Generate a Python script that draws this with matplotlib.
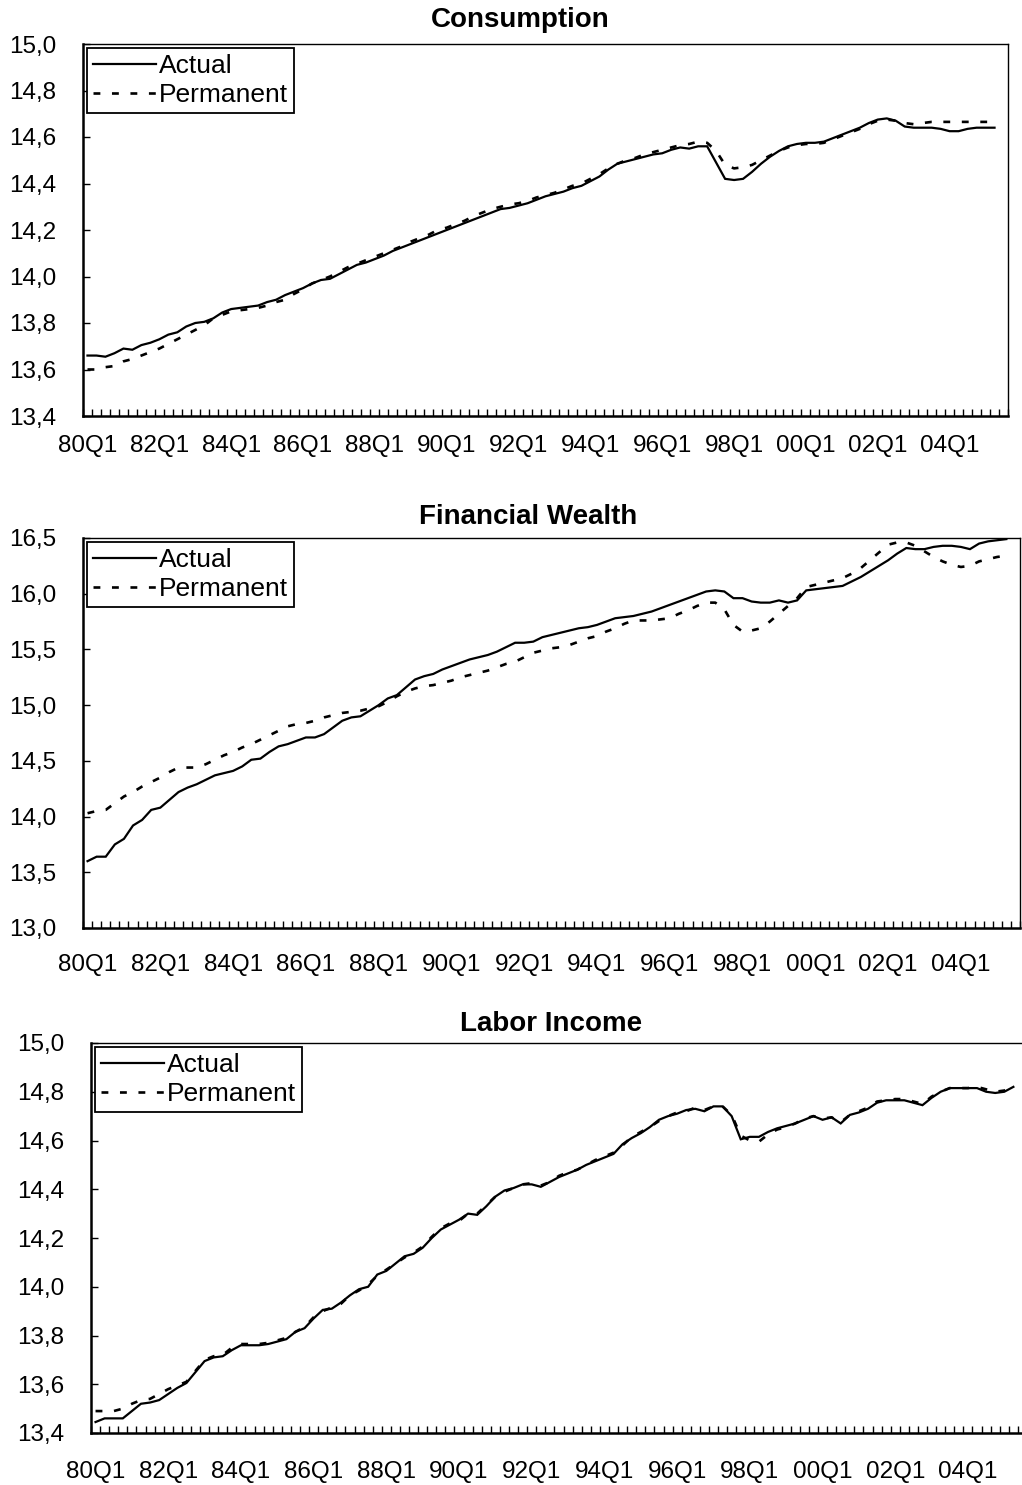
import matplotlib
matplotlib.use("Agg")
import matplotlib.pyplot as plt
from matplotlib.ticker import FixedLocator, FuncFormatter
import numpy as np

plt.rcParams['font.family'] = ['Liberation Sans', 'DejaVu Sans']

# ---------------- data (quarterly, 80Q1 .. 05Q2) ----------------
years = list(range(80, 100)) + list(range(0, 6))
quarters = [f"{y:02d}Q{q}" for y in years for q in (1, 2, 3, 4)][:102]
label_every = 8
n_bins = 103

cons_actual = [
    13.66, 13.66, 13.655, 13.67, 13.69, 13.685, 13.705, 13.715, 13.73, 13.75,
    13.76, 13.785, 13.80, 13.805, 13.82, 13.845, 13.86, 13.865, 13.87, 13.875,
    13.89, 13.90, 13.92, 13.935, 13.95, 13.97, 13.985, 13.99, 14.01, 14.03,
    14.05, 14.06, 14.075, 14.09, 14.11, 14.125, 14.14, 14.155, 14.17, 14.185,
    14.20, 14.215, 14.23, 14.245, 14.26, 14.275, 14.29, 14.295, 14.305, 14.315,
    14.33, 14.345, 14.355, 14.365, 14.38, 14.39, 14.41, 14.43, 14.46, 14.485,
    14.495, 14.505, 14.515, 14.525, 14.53, 14.545, 14.555, 14.55, 14.56, 14.56,
    14.49, 14.42, 14.415, 14.42, 14.45, 14.485, 14.515, 14.54, 14.56, 14.57,
    14.575, 14.575, 14.58, 14.595, 14.61, 14.625, 14.64, 14.66, 14.675, 14.68,
    14.67, 14.645, 14.64, 14.64, 14.64, 14.635, 14.625, 14.625, 14.635, 14.64,
    14.64, 14.64]
cons_perm = [
    13.60, 13.60, 13.61, 13.615, 13.635, 13.645, 13.66, 13.675, 13.69, 13.71,
    13.73, 13.75, 13.77, 13.79, 13.82, 13.835, 13.85, 13.855, 13.86, 13.865,
    13.875, 13.89, 13.90, 13.925, 13.945, 13.97, 13.985, 14.00, 14.02, 14.04,
    14.055, 14.07, 14.085, 14.10, 14.115, 14.13, 14.15, 14.165, 14.18, 14.20,
    14.21, 14.225, 14.24, 14.26, 14.275, 14.29, 14.30, 14.31, 14.315, 14.325,
    14.34, 14.35, 14.36, 14.375, 14.39, 14.40, 14.42, 14.44, 14.465, 14.485,
    14.50, 14.51, 14.525, 14.535, 14.545, 14.555, 14.565, 14.57, 14.58, 14.575,
    14.54, 14.48, 14.465, 14.47, 14.48, 14.50, 14.52, 14.54, 14.555, 14.565,
    14.57, 14.57, 14.575, 14.59, 14.605, 14.62, 14.635, 14.655, 14.67, 14.675,
    14.67, 14.66, 14.655, 14.66, 14.665, 14.665, 14.665, 14.665, 14.665, 14.665,
    14.665, 14.665]

wealth_actual = [
    13.60, 13.64, 13.64, 13.75, 13.80, 13.92, 13.97, 14.06, 14.08, 14.15,
    14.22, 14.26, 14.29, 14.33, 14.37, 14.39, 14.41, 14.45, 14.51, 14.52,
    14.58, 14.63, 14.65, 14.68, 14.71, 14.71, 14.74, 14.80, 14.86, 14.89,
    14.90, 14.95, 15.00, 15.06, 15.09, 15.16, 15.23, 15.26, 15.28, 15.32,
    15.35, 15.38, 15.41, 15.43, 15.45, 15.48, 15.52, 15.56, 15.56, 15.57,
    15.61, 15.63, 15.65, 15.67, 15.69, 15.70, 15.72, 15.75, 15.78, 15.79,
    15.80, 15.82, 15.84, 15.87, 15.90, 15.93, 15.96, 15.99, 16.02, 16.03,
    16.02, 15.96, 15.96, 15.93, 15.92, 15.92, 15.94, 15.92, 15.94, 16.03,
    16.04, 16.05, 16.06, 16.07, 16.11, 16.15, 16.20, 16.25, 16.30, 16.36,
    16.41, 16.40, 16.40, 16.42, 16.43, 16.43, 16.42, 16.40, 16.45, 16.47,
    16.48, 16.49]
wealth_perm = [
    14.03, 14.05, 14.06, 14.12, 14.18, 14.22, 14.27, 14.31, 14.35, 14.40,
    14.44, 14.44, 14.44, 14.47, 14.51, 14.55, 14.58, 14.62, 14.65, 14.69,
    14.73, 14.77, 14.81, 14.83, 14.84, 14.86, 14.89, 14.91, 14.93, 14.94,
    14.95, 14.97, 14.99, 15.03, 15.08, 15.12, 15.15, 15.17, 15.18, 15.20,
    15.22, 15.25, 15.27, 15.29, 15.31, 15.34, 15.37, 15.39, 15.43, 15.47,
    15.49, 15.51, 15.52, 15.54, 15.57, 15.60, 15.62, 15.66, 15.69, 15.73,
    15.76, 15.76, 15.76, 15.77, 15.78, 15.82, 15.85, 15.89, 15.92, 15.92,
    15.86, 15.72, 15.66, 15.67, 15.69, 15.75, 15.82, 15.89, 15.96, 16.06,
    16.08, 16.10, 16.12, 16.14, 16.18, 16.23, 16.30, 16.37, 16.44, 16.46,
    16.46, 16.43, 16.38, 16.33, 16.29, 16.26, 16.24, 16.25, 16.29, 16.31,
    16.33, 16.34]

labor_actual = [
    13.445, 13.46, 13.46, 13.46, 13.49, 13.52, 13.525, 13.535, 13.56, 13.585,
    13.605, 13.65, 13.695, 13.71, 13.715, 13.74, 13.76, 13.76, 13.76, 13.765,
    13.775, 13.785, 13.815, 13.83, 13.87, 13.905, 13.91, 13.935, 13.965, 13.99,
    14.00, 14.05, 14.065, 14.095, 14.125, 14.135, 14.16, 14.20, 14.235, 14.255,
    14.275, 14.30, 14.295, 14.33, 14.37, 14.395, 14.405, 14.42, 14.42, 14.41,
    14.43, 14.45, 14.465, 14.48, 14.50, 14.515, 14.53, 14.545, 14.585, 14.61,
    14.63, 14.655, 14.685, 14.70, 14.71, 14.725, 14.73, 14.72, 14.74, 14.74,
    14.70, 14.605, 14.615, 14.615, 14.635, 14.65, 14.66, 14.67, 14.685, 14.70,
    14.685, 14.695, 14.67, 14.705, 14.715, 14.73, 14.755, 14.765, 14.765, 14.765,
    14.755, 14.745, 14.775, 14.80, 14.815, 14.815, 14.815, 14.815, 14.80, 14.795,
    14.80, 14.82]
labor_perm = [
    13.49, 13.49, 13.49, 13.50, 13.52, 13.535, 13.54, 13.56, 13.58, 13.595,
    13.61, 13.655, 13.70, 13.715, 13.72, 13.75, 13.765, 13.765, 13.765, 13.77,
    13.78, 13.79, 13.815, 13.835, 13.875, 13.90, 13.915, 13.93, 13.965, 13.985,
    14.01, 14.045, 14.07, 14.095, 14.12, 14.14, 14.165, 14.205, 14.24, 14.26,
    14.27, 14.30, 14.30, 14.335, 14.37, 14.39, 14.405, 14.42, 14.425, 14.415,
    14.43, 14.455, 14.47, 14.48, 14.50, 14.52, 14.535, 14.55, 14.58, 14.615,
    14.635, 14.655, 14.68, 14.70, 14.715, 14.72, 14.735, 14.725, 14.74, 14.74,
    14.705, 14.62, 14.60, 14.595, 14.625, 14.645, 14.655, 14.67, 14.69, 14.70,
    14.69, 14.695, 14.675, 14.705, 14.72, 14.735, 14.76, 14.765, 14.77, 14.77,
    14.76, 14.75, 14.78, 14.80, 14.815, 14.815, 14.815, 14.82, 14.81, 14.80,
    14.805, 14.82]

titles = ["Consumption", "Financial Wealth", "Labor Income"]
series_names = ["Actual", "Permanent"]
y_ranges = [(13.4, 15.0, 0.2), (13.0, 16.5, 0.5), (13.4, 15.0, 0.2)]

# ---------------- layout (figure pixels) ----------------
W, H = 1022, 1485
fig = plt.figure(figsize=(W / 100, H / 100), dpi=100)

# left, right, top, bottom in px
boxes = [(83, 1008, 44, 416), (83, 1020, 538, 928), (91, 1027, 1043, 1433)]
title_pos = [(520, 20), (528, 517), (551, 1024)]
xpad = [14, 19, 20.5]
data = [(cons_actual, cons_perm), (wealth_actual, wealth_perm), (labor_actual, labor_perm)]

for k in range(3):
    l, r, t, b = boxes[k]
    ax = fig.add_axes([l / W, 1 - b / H, (r - l) / W, (b - t) / H])
    act, perm = data[k]
    x = np.arange(len(act))
    ax.plot(x, act, color='black', lw=1.6, solid_joinstyle='miter', label=series_names[0])
    ax.plot(x, perm, color='black', lw=1.9, linestyle=(0, (2.6, 4.4)), label=series_names[1])

    ax.set_xlim(-0.5, n_bins - 0.5)
    y0, y1, st = y_ranges[k]
    ax.set_ylim(y0, y1)
    yt = np.round(np.arange(y0, y1 + st / 2, st), 2)
    ax.yaxis.set_major_locator(FixedLocator(yt))
    ax.yaxis.set_major_formatter(FuncFormatter(lambda v, p: f"{v:.1f}".replace('.', ',')))

    major = list(range(0, len(quarters), label_every))
    ax.xaxis.set_major_locator(FixedLocator(major))
    ax.set_xticklabels([quarters[i] for i in major])
    ax.xaxis.set_minor_locator(FixedLocator(np.arange(-0.5, n_bins, 1.0)))
    ax.tick_params(axis='x', which='major', length=0, pad=xpad[k], labelsize=17.5)
    ax.tick_params(axis='x', which='minor', length=5, width=1.0, direction='in')
    ax.tick_params(axis='y', which='major', length=5, width=1.0, direction='in',
                   pad=19, labelsize=17.5)

    for side in ('left', 'bottom'):
        ax.spines[side].set_linewidth(1.8)
    for side in ('top', 'right'):
        ax.spines[side].set_linewidth(1.0)

    leg = ax.legend(loc='upper left', fontsize=19, frameon=True, fancybox=False,
                    edgecolor='black', framealpha=1, handlelength=2.4,
                    handletextpad=0.1, borderpad=0.22, labelspacing=0.2,
                    borderaxespad=0.15)
    leg.get_frame().set_linewidth(1.3)

    tx, ty = title_pos[k]
    fig.text(tx / W, 1 - ty / H, titles[k], ha='center', va='center',
             fontsize=20, fontweight='bold')

fig.savefig("out.png", dpi=100)
